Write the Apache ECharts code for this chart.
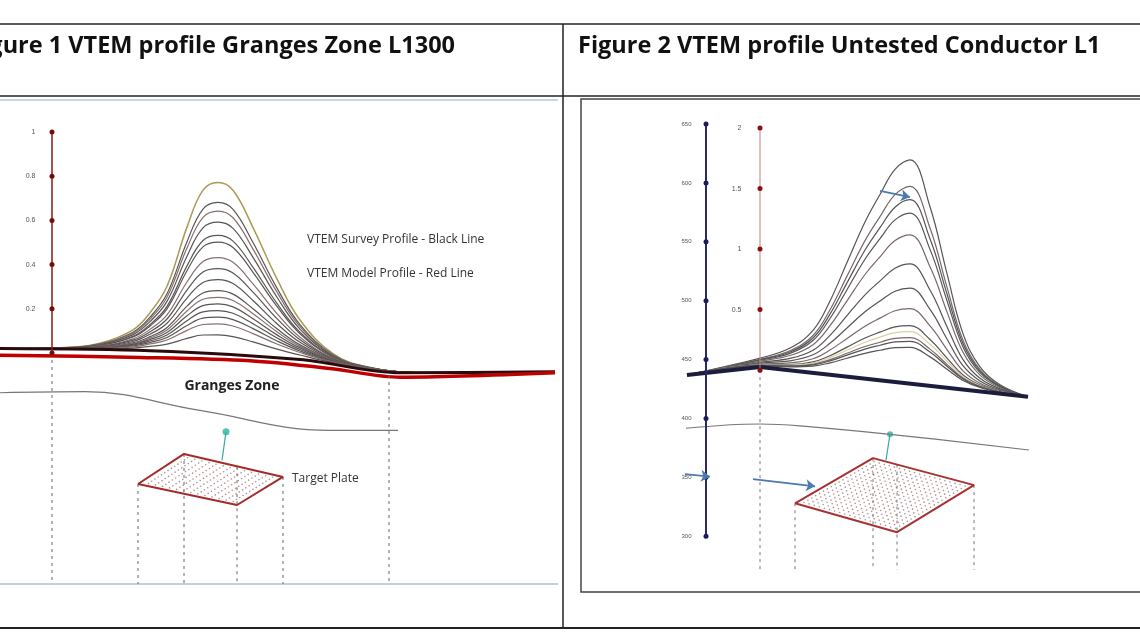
<!DOCTYPE html>
<html>
<head>
<meta charset="utf-8">
<script src="https://cdn.jsdelivr.net/npm/echarts@6/dist/echarts.min.js"></script>
<style>html,body{margin:0;padding:0;background:#fff}#main{width:1140px;height:641px}</style>
</head>
<body>
<div id="main"></div>
<script>
// ---- data ----
var titles = ['Figure 1 VTEM profile Granges Zone L1300', 'Figure 2 VTEM profile Untested Conductor L1'];

// Figure 1 (left): red axis ticks, profile shape and channel peak values
var leftTicks = [0.2, 0.4, 0.6, 0.8, 1];
var leftShapeX = [0, 60, 100, 133, 150, 167, 187, 203, 218, 233, 253, 277, 300, 333, 367, 420, 555];
var leftShape = [0, 0.01, 0.04, 0.12, 0.22, 0.38, 0.73, 0.95, 1, 0.96, 0.75, 0.46, 0.23, 0.06, 0.01, 0, 0];
var leftPeaks = [0.78, 0.69, 0.65, 0.60, 0.54, 0.51, 0.44, 0.39, 0.34, 0.29, 0.26, 0.23, 0.20, 0.17, 0.14, 0.09];
var leftSurveyBase = [[0, 0.02], [150, 0.01], [300, -0.03], [400, -0.09], [555, -0.085]];
var leftModel = [[0, -0.01], [140, -0.02], [250, -0.035], [330, -0.07], [400, -0.11], [555, -0.09]];
var leftZone = [[0, -0.18], [85, -0.175], [200, -0.26], [330, -0.35], [398, -0.35]];
var leftPlate = [[138, -0.593], [184, -0.457], [283, -0.561], [237, -0.688]];
var leftPin = [[222, -0.486], [226, -0.357]];
var leftDashX = [52, 138, 184, 237, 283, 389];

// Figure 2 (right): two axes, profile shape and channel peak values
var rightTicks = [0.5, 1, 1.5, 2];
var blueTicks = [650, 600, 550, 500, 450, 400, 350, 300];
var rightShapeX = [687, 760, 790, 813, 830, 847, 865, 880, 895, 910, 930, 947, 963, 980, 1000, 1028];
var rightShape = [0, 0.04, 0.1, 0.19, 0.33, 0.51, 0.7, 0.83, 0.95, 1, 0.8, 0.51, 0.25, 0.11, 0.04, 0];
var rightPeaks = [1.85, 1.63, 1.52, 1.41, 1.23, 0.99, 0.79, 0.62, 0.48, 0.43, 0.38, 0.35, 0.30];
var rightBase = [[687, -0.04], [760, 0.025], [1028, -0.22]];
var rightZone = [[686, -0.48], [760, -0.445], [800, -0.46], [890, -0.53], [1029, -0.66]];
var rightPlate = [[795, -1.1], [873, -0.727], [974, -0.95], [897, -1.339]];
var rightPin = [[886, -0.744], [890, -0.529]];
var rightDashX = [760, 795, 873, 897, 974];

// ---- helpers ----
function interp(pts, x) {
    for (var i = 1; i < pts.length; i++) {
        if (x <= pts[i][0]) {
            var a = pts[i - 1], b = pts[i];
            return a[1] + (b[1] - a[1]) * (x - a[0]) / (b[0] - a[0]);
        }
    }
    return pts[pts.length - 1][1];
}
function profile(xs, shape, base, peak) {
    return xs.map(function (x, i) { return [x, interp(base, x) + peak * shape[i]]; });
}
function plateDots(c, n) {
    var out = [];
    for (var i = 1; i < n; i++) for (var j = 1; j < n; j++) {
        var u = i / n, v = j / n;
        var x = (1 - u) * (1 - v) * c[0][0] + u * (1 - v) * c[1][0] + u * v * c[2][0] + (1 - u) * v * c[3][0];
        var y = (1 - u) * (1 - v) * c[0][1] + u * (1 - v) * c[1][1] + u * v * c[2][1] + (1 - u) * v * c[3][1];
        out.push([x, y]);
    }
    return out;
}
function dashes(xs, toFn, toY) {
    var d = [];
    xs.forEach(function (x) { d.push([x, toFn(x)]); d.push([x, toY]); d.push(null); });
    return d;
}
function blueToRed(b) { return (370 - (124 + (650 - b) * 1.177)) / 121; }

var series = [];
// left profiles
leftPeaks.forEach(function (p, i) {
    series.push({ type: 'line', xAxisIndex: 0, yAxisIndex: 0, smooth: 0.4, symbol: 'none', silent: true,
        data: profile(leftShapeX, leftShape, leftSurveyBase, p),
        lineStyle: { width: i === 0 ? 1.5 : 1.2, color: i === 0 ? '#a99a55' : (i % 4 === 2 ? '#8a6f6f' : '#5a5555') } });
});
series.push({ type: 'line', xAxisIndex: 0, yAxisIndex: 0, smooth: 0.3, symbol: 'none', data: leftSurveyBase, lineStyle: { width: 3, color: '#2a0a0a' } });
series.push({ type: 'line', xAxisIndex: 0, yAxisIndex: 0, smooth: 0.3, symbol: 'none', data: leftModel, lineStyle: { width: 3.5, color: '#c00000' } });
series.push({ type: 'line', xAxisIndex: 0, yAxisIndex: 0, smooth: 0.4, symbol: 'none', data: leftZone, lineStyle: { width: 1.2, color: '#777' } });
series.push({ type: 'line', xAxisIndex: 0, yAxisIndex: 0, symbol: 'none', connectNulls: false,
    data: dashes(leftDashX, function (x) { return x === 389 ? -0.1 : (x === 52 ? 0 : interp(leftPlate, x)); }, -1.045),
    lineStyle: { width: 1, type: [3, 4], color: '#666' } });
series.push({ type: 'line', xAxisIndex: 0, yAxisIndex: 0, symbol: 'circle', symbolSize: 5, data: [[52, 0]].concat(leftTicks.map(function (t) { return [52, t]; })),
    itemStyle: { color: '#7a0a0a' }, lineStyle: { width: 1.5, color: '#8b1a1a' },
    label: { show: true, position: 'left', distance: 14, fontSize: 7, color: '#555', formatter: function (p) { return p.value[1] === 0 ? '' : String(p.value[1]); } } });
series.push({ type: 'scatter', xAxisIndex: 0, yAxisIndex: 0, symbolSize: 1.6, data: plateDots(leftPlate, 14), itemStyle: { color: '#9a7070' } });
series.push({ type: 'line', xAxisIndex: 0, yAxisIndex: 0, symbol: 'none', data: leftPlate.concat([leftPlate[0]]), lineStyle: { width: 2, color: '#a52a2a' } });
series.push({ type: 'line', xAxisIndex: 0, yAxisIndex: 0, symbol: 'none', data: leftPin, lineStyle: { width: 1.2, color: '#3aa9a0' } });
series.push({ type: 'scatter', xAxisIndex: 0, yAxisIndex: 0, symbolSize: 7, data: [leftPin[1]], itemStyle: { color: '#2bb3a3' } });

// right profiles
rightPeaks.forEach(function (p, i) {
    series.push({ type: 'line', xAxisIndex: 1, yAxisIndex: 1, smooth: 0.4, symbol: 'none', silent: true,
        data: profile(rightShapeX, rightShape, rightBase, p),
        lineStyle: { width: 1.2, color: i === 9 ? '#d8d0a0' : (i % 3 === 1 ? '#7a6868' : '#555') } });
});
series.push({ type: 'line', xAxisIndex: 1, yAxisIndex: 1, symbol: 'none', data: rightBase, lineStyle: { width: 4, color: '#1c1c3c' } });
series.push({ type: 'line', xAxisIndex: 1, yAxisIndex: 1, smooth: 0.4, symbol: 'none', data: rightZone, lineStyle: { width: 1.2, color: '#777' } });
series.push({ type: 'line', xAxisIndex: 1, yAxisIndex: 1, symbol: 'none', connectNulls: false,
    data: dashes(rightDashX, function (x) { return x === 760 ? 0 : interp(rightPlate, x); }, -1.65),
    lineStyle: { width: 1, type: [3, 4], color: '#777' } });
series.push({ type: 'line', xAxisIndex: 1, yAxisIndex: 1, symbol: 'circle', symbolSize: 5, data: [[760, 0]].concat(rightTicks.map(function (t) { return [760, t]; })),
    itemStyle: { color: '#8a1010' }, lineStyle: { width: 1, color: '#c08080' },
    label: { show: true, position: 'left', distance: 16, fontSize: 7, color: '#555', formatter: function (p) { return p.value[1] === 0 ? '' : String(p.value[1]); } } });
series.push({ type: 'line', xAxisIndex: 1, yAxisIndex: 1, symbol: 'circle', symbolSize: 5,
    data: blueTicks.map(function (b) { return { value: [706, blueToRed(b)], name: String(b) }; }),
    itemStyle: { color: '#1c1c5c' }, lineStyle: { width: 2, color: '#2a2a6a' },
    label: { show: true, position: 'left', distance: 12, fontSize: 6, color: '#555', formatter: '{b}' } });
series.push({ type: 'scatter', xAxisIndex: 1, yAxisIndex: 1, symbolSize: 1.6, data: plateDots(rightPlate, 20), itemStyle: { color: '#9a7070' } });
series.push({ type: 'line', xAxisIndex: 1, yAxisIndex: 1, symbol: 'none', data: rightPlate.concat([rightPlate[0]]), lineStyle: { width: 2, color: '#a83232' } });
series.push({ type: 'line', xAxisIndex: 1, yAxisIndex: 1, symbol: 'none', data: rightPin, lineStyle: { width: 1.2, color: '#3aa9a0' },
    markLine: { silent: true, symbol: ['none', 'arrow'], symbolSize: 9, label: { show: false }, lineStyle: { color: '#4a7ab0', width: 1.8, type: 'solid' },
        data: [[{ coord: [753, -0.9] }, { coord: [815, -0.96] }], [{ coord: [685, -0.86] }, { coord: [710, -0.88] }], [{ coord: [880, 1.48] }, { coord: [910, 1.43] }]] } });
series.push({ type: 'scatter', xAxisIndex: 1, yAxisIndex: 1, symbolSize: 6, data: [rightPin[1]], itemStyle: { color: '#2bb3a3' } });

var chart = echarts.init(document.getElementById('main'));
chart.setOption({
    animation: false,
    backgroundColor: '#fff',
    grid: [
        { left: 0, top: 132, width: 560, height: 453 },
        { left: 581, top: 122, width: 557, height: 466 }
    ],
    xAxis: [
        { type: 'value', gridIndex: 0, min: 0, max: 560, show: false },
        { type: 'value', gridIndex: 1, min: 581, max: 1138, show: false }
    ],
    yAxis: [
        { type: 'value', gridIndex: 0, min: -1.05, max: 1, show: false },
        { type: 'value', gridIndex: 1, min: -1.8, max: 2.05, show: false }
    ],
    graphic: [
        { type: 'line', shape: { x1: 0, y1: 24, x2: 1140, y2: 24 }, style: { stroke: '#222', lineWidth: 1.5 } },
        { type: 'line', shape: { x1: 0, y1: 96, x2: 1140, y2: 96 }, style: { stroke: '#222', lineWidth: 1.5 } },
        { type: 'line', shape: { x1: 0, y1: 628, x2: 1140, y2: 628 }, style: { stroke: '#222', lineWidth: 2 } },
        { type: 'line', shape: { x1: 563, y1: 24, x2: 563, y2: 628 }, style: { stroke: '#222', lineWidth: 1.5 } },
        { type: 'line', shape: { x1: 0, y1: 100, x2: 558, y2: 100 }, style: { stroke: '#8fb0c8', lineWidth: 1.2 } },
        { type: 'line', shape: { x1: 0, y1: 584, x2: 558, y2: 584 }, style: { stroke: '#7fa3bf', lineWidth: 1.2 } },
        { type: 'rect', shape: { x: 581, y: 99, width: 560, height: 493 }, style: { fill: 'none', stroke: '#444', lineWidth: 1.5 } },
        { type: 'text', x: 455, y: 46, style: { text: titles[0], align: 'right', verticalAlign: 'middle', font: 'bold 23.5px "Open Sans", sans-serif', fill: '#111' } },
        { type: 'text', x: 578, y: 46, style: { text: titles[1], align: 'left', verticalAlign: 'middle', font: 'bold 23.5px "Open Sans", sans-serif', fill: '#111' } },
        { type: 'text', x: 307, y: 240, style: { text: 'VTEM Survey Profile - Black Line', verticalAlign: 'middle', font: '12px "Open Sans", sans-serif', fill: '#333' } },
        { type: 'text', x: 307, y: 274, style: { text: 'VTEM Model Profile - Red Line', verticalAlign: 'middle', font: '12px "Open Sans", sans-serif', fill: '#333' } },
        { type: 'text', x: 232, y: 386, style: { text: 'Granges Zone', align: 'center', verticalAlign: 'middle', font: 'bold 14px "Open Sans", sans-serif', fill: '#222' } },
        { type: 'text', x: 292, y: 479, style: { text: 'Target Plate', verticalAlign: 'middle', font: '12px "Open Sans", sans-serif', fill: '#333' } }
    ],
    series: series
});
</script>
</body>
</html>
